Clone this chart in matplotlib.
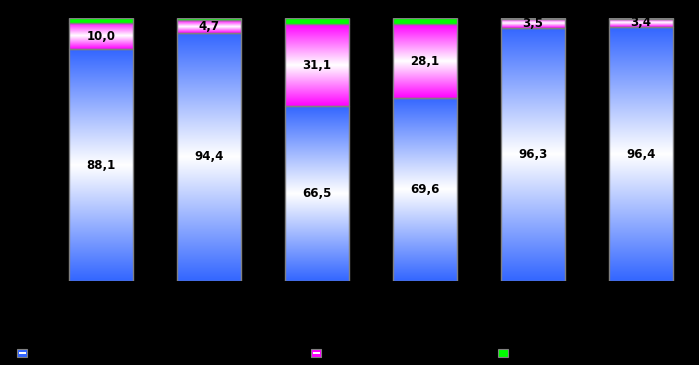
import numpy as np
import matplotlib.pyplot as plt
from matplotlib.colors import LinearSegmentedColormap
from matplotlib.patches import Rectangle

categories = ["1", "2", "3", "4", "5", "6"]
blue_vals = [88.1, 94.4, 66.5, 69.6, 96.3, 96.4]
magenta_vals = [10.0, 4.7, 31.1, 28.1, 3.5, 3.4]
green_vals = [1.9, 0.9, 2.4, 2.3, 0.2, 0.2]
series_names = ["", "", ""]

fig = plt.figure(figsize=(6.99, 3.65), dpi=100, facecolor="black")
ax = fig.add_axes([47 / 699, 84 / 365, 648 / 699, 263 / 365])
ax.set_facecolor("black")
ax.set_xlim(-0.5, len(categories) - 0.5)
ax.set_ylim(0, 100)
ax.axis("off")

width = 64 / 108
blue_cmap = LinearSegmentedColormap.from_list("b", ["#3366ff", "#ffffff", "#3366ff"])
mag_cmap = LinearSegmentedColormap.from_list("m", ["#ff00ff", "#ffffff", "#ff00ff"])
grad = np.linspace(0, 1, 256).reshape(-1, 1)

for i in range(len(categories)):
    x0 = i - width / 2
    bottom = 0
    for val, cmap in [(blue_vals[i], blue_cmap), (magenta_vals[i], mag_cmap)]:
        ax.imshow(grad, cmap=cmap, aspect="auto", extent=(x0, x0 + width, bottom, bottom + val),
                  interpolation="bilinear", zorder=1)
        ax.add_patch(Rectangle((x0, bottom), width, val, fill=False, edgecolor="#808080", lw=1, zorder=2))
        ax.text(i, bottom + val / 2, f"{val:.1f}".replace(".", ","), ha="center", va="center",
                fontsize=8.5, fontweight="bold", color="black", zorder=3)
        bottom += val
    ax.bar(i, green_vals[i], width, bottom=bottom, color="#00ff00", edgecolor="#808080", lw=1, zorder=2)

ax.set_xlim(-0.5, len(categories) - 0.5)
ax.set_ylim(0, 100)

# legend markers (text is black on black)
leg_x = [17, 311, 498]
leg_cols = [("#3366ff", "#ffffff"), ("#ff00ff", "#ffffff"), ("#00ff00", "#00ff00")]
for lx, (c1, c2), name in zip(leg_x, leg_cols, series_names):
    fig.patches.append(Rectangle((lx / 699, 8 / 365), 10 / 699, 8 / 365, transform=fig.transFigure,
                                 facecolor=c1, edgecolor="#808080", lw=0.8))
    if c1 != c2:
        fig.patches.append(Rectangle((lx / 699 + 1.5 / 699, 11 / 365), 7 / 699, 2.5 / 365,
                                     transform=fig.transFigure, facecolor=c2, edgecolor="none"))
    fig.text((lx + 14) / 699, 12 / 365, name, color="black", fontsize=8, va="center")

fig.savefig("out.png", dpi=100, facecolor="black")
